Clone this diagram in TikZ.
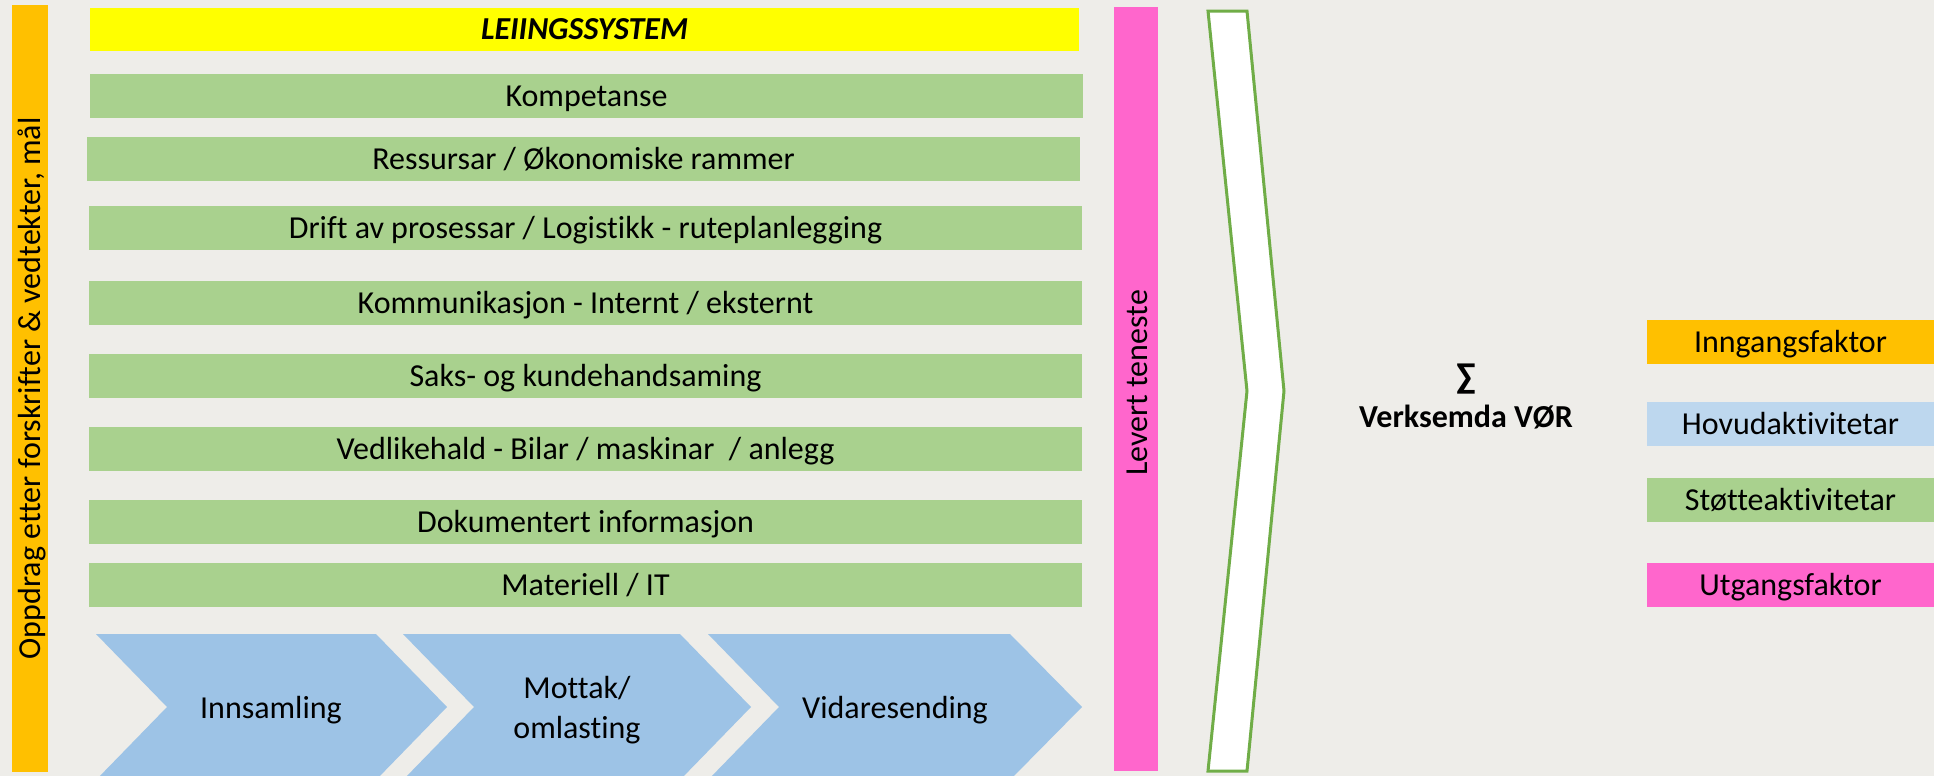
\documentclass[tikz,border=0pt]{standalone}
\usepackage{fontspec}
\setmainfont{Carlito}[Ligatures=NoCommon]
\definecolor{bg}{RGB}{238,237,233}
\definecolor{ora}{RGB}{255,192,0}
\definecolor{yel}{RGB}{255,255,0}
\definecolor{grn}{RGB}{169,209,142}
\definecolor{blu}{RGB}{157,195,230}
\definecolor{lblu}{RGB}{189,215,238}
\definecolor{pnk}{RGB}{255,102,204}
\definecolor{edgegrn}{RGB}{112,173,71}
\begin{document}
\begin{tikzpicture}[x=0.5pt,y=-0.5pt,
  txt/.style={font=\fontsize{16}{20}\selectfont, text=black, inner sep=0pt, text height=13.7pt, text depth=3pt},
  plain/.style={font=\fontsize{16}{20}\selectfont, text=black, inner sep=0pt},
  gbar/.style={txt, fill=grn, minimum height=22pt, minimum width=496.5pt},
  legendbox/.style={txt, minimum height=22pt, minimum width=143.5pt},
  chev/.style={fill=blu},
  vtxt/.style={txt, rotate=90}]
\clip (0,0) rectangle (1934,776);
\fill[bg] (0,0) rectangle (1934,776);

% orange left bar
\node[plain, fill=ora, minimum width=18pt, minimum height=383.5pt] (oppdrag) at (30,388.5) {};
\node[vtxt] (oppdragtxt) at (oppdrag.center) {Oppdrag etter forskrifter \& vedtekter, mål};

% yellow header
\node[txt, fill=yel, minimum width=494.5pt, minimum height=21.5pt, font=\fontsize{16}{20}\selectfont\bfseries\itshape] (leiing) at (584.5,29) {LEIINGSSYSTEM};

% green support bars
\node[gbar] (komp) at (586.5,95.5) {Kompetanse};
\node[gbar] (ress) at (583.5,158.5) {Ressursar / Økonomiske rammer};
\node[gbar] (drift) at (585.5,228) {Drift av prosessar / Logistikk - ruteplanlegging};
\node[gbar] (komm) at (585.5,303) {Kommunikasjon - Internt / eksternt};
\node[gbar] (saks) at (585.5,376) {Saks- og kundehandsaming};
\node[gbar] (vedl) at (585.5,449) {Vedlikehald - Bilar / maskinar\ \ / anlegg};
\node[gbar] (doku) at (585.5,521.5) {Dokumentert informasjon};
\node[gbar] (mat) at (585.5,585) {Materiell / IT};

% blue main chevrons
\fill[chev] (96,634) -- (376,634) -- (447,707) -- (376,780) -- (96,780) -- (167,707) -- cycle;
\fill[chev] (403,634) -- (680,634) -- (751,707) -- (680,780) -- (403,780) -- (474,707) -- cycle;
\fill[chev] (708,634) -- (1010,634) -- (1082,707) -- (1010,780) -- (708,780) -- (779,707) -- cycle;
\node[txt] (inns) at (271,708) {Innsamling};
\node[plain, align=center] (mott) at (577,710) {Mottak/\\omlasting};
\node[txt] (vida) at (895,708) {Vidaresending};

% pink output bar
\node[plain, fill=pnk, minimum width=22pt, minimum height=382pt] (levert) at (1136,389) {};
\node[vtxt] (levtxt) at (1137,383) {Levert teneste};

% white chevron
\draw[edgegrn, line width=1.5pt, fill=white, line join=miter]
  (1208,11) -- (1247,11) -- (1284,391) -- (1247,771) -- (1208,771) -- (1247,391) -- cycle;

% sum text
\node[plain, font=\fontsize{18}{20}\selectfont\bfseries] (sum) at (1466,379) {∑};
\node[txt, font=\fontsize{16}{20}\selectfont\bfseries] (verk) at (1466,417) {Verksemda VØR};

% legend
\node[legendbox, fill=ora] (l1) at (1790.5,342) {Inngangsfaktor};
\node[legendbox, fill=lblu] (l2) at (1790.5,424) {Hovudaktivitetar};
\node[legendbox, fill=grn] (l3) at (1790.5,500) {Støtteaktivitetar};
\node[legendbox, fill=pnk] (l4) at (1790.5,585) {Utgangsfaktor};
\end{tikzpicture}
\end{document}
